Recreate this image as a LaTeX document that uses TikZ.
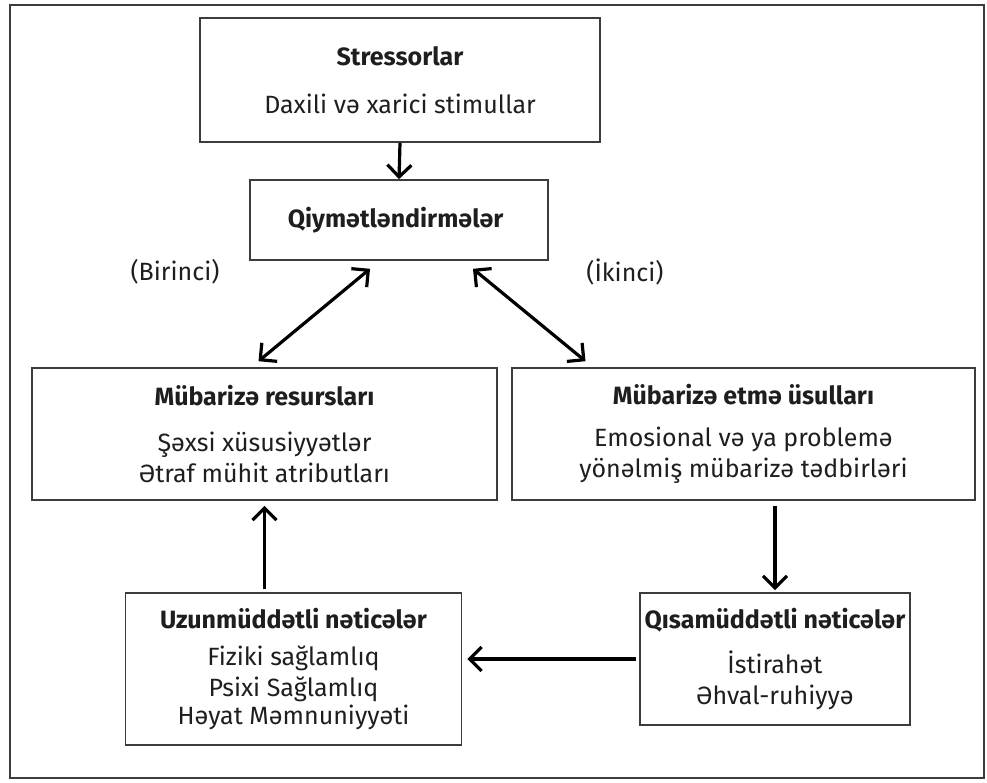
\documentclass[tikz,border=0pt]{standalone}
\usepackage{fontspec}
\setmainfont{Fira Sans}
\usepackage{tikz}
\usetikzlibrary{arrows.meta,calc}
\definecolor{boxgray}{RGB}{60,60,60}
\definecolor{textgray}{RGB}{30,30,30}

\tikzset{
	stage/.style={rectangle, draw=boxgray, line width=1.6pt, align=center,
		text=textgray, inner sep=0pt, font=\fontsize{25}{31}\selectfont},
	flow/.style={line width=3.2pt, -{Straight Barb[length=12pt,width=24pt]}},
	twoway/.style={line width=3.2pt, {Straight Barb[length=12pt,width=24pt]}-{Straight Barb[length=12pt,width=24pt]}},
	side/.style={text=textgray, font=\fontsize{25}{31}\selectfont}
}

\begin{document}
\begin{tikzpicture}[x=1pt,y=-1pt]
				\useasboundingbox (0,0) rectangle (987,783);
				\draw[boxgray, line width=1.4pt] (10,5) rectangle (984,778);
				
				\node[stage, minimum width=400pt, minimum height=124pt] (stress) at (400,80) {
					\textbf{Stressorlar}\\[17pt]
					Daxili və xarici stimullar
				};
				\node[stage, minimum width=298pt, minimum height=80pt] (qiymet) at (399,220) {
					\textbf{Qiymətləndirmələr}
				};
				\node[stage, minimum width=465pt, minimum height=132pt] (resurs) at (264.5,434) {
					\textbf{Mübarizə resursları}\\[15pt]
					Şəxsi xüsusiyyətlər\\
					Ətraf mühit atributları
				};
				\node[stage, minimum width=463pt, minimum height=132pt] (usul) at (743.5,434) {
					\textbf{Mübarizə etmə üsulları}\\[11pt]
					Emosional və ya problemə\\
					yönəlmiş mübarizə tədbirləri
				};
				\node[stage, minimum width=270pt, minimum height=132pt] (qisa) at (775,659) {
					\textbf{Qısamüddətli nəticələr}\\[14pt]
					İstirahət\\
					Əhval-ruhiyyə
				};
				\node[stage, minimum width=336pt, minimum height=152pt] (uzun) at (293.5,669) {
					\textbf{Uzunmüddətli nəticələr}\\[6pt]
					Fiziki sağlamlıq\\
					Psixi Sağlamlıq\\[-3pt]
					Həyat Məmnuniyyəti
				};
				
				\node[side] (birinci) at (175,272) {(Birinci)};
				\node[side] (ikinci) at (625,272) {(İkinci)};
				
				% connectors
				\draw[flow] (stress.south) -- (qiymet.north);
				\draw[twoway] ([xshift=-29pt,yshift=-8pt]qiymet.south) -- ([xshift=-6pt,yshift=6pt]resurs.north);
				\draw[twoway] ([xshift=74pt,yshift=-8pt]qiymet.south) -- ([xshift=-158pt,yshift=6pt]usul.north);
				\draw[flow, shorten <=5pt, shorten >=2pt] (qisa.north |- usul.south) -- (qisa.north);
				\draw[flow, shorten <=3pt, shorten >=5pt] (qisa.west) -- (qisa.west -| uzun.east);
				\draw[flow, shorten <=3pt, shorten >=5pt] (resurs.south |- uzun.north) -- (resurs.south);
			\end{tikzpicture}
\end{document}
